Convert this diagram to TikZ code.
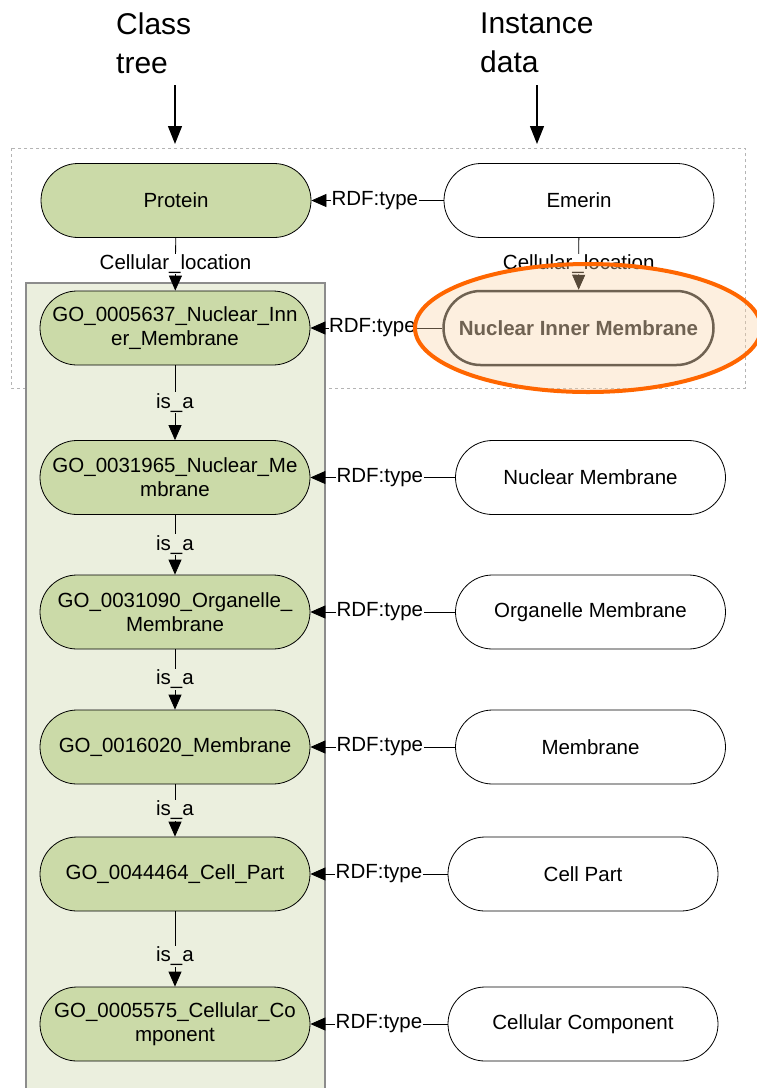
\documentclass[tikz,border=0pt]{standalone}
\usepackage{fontspec}
\setmainfont{Liberation Sans}
\usetikzlibrary{arrows.meta,shapes.geometric}
\definecolor{nodegreen}{RGB}{203,218,168}
\definecolor{panelgreen}{RGB}{235,239,222}
\definecolor{panelborder}{RGB}{140,140,140}
\definecolor{dashgray}{RGB}{180,180,180}
\definecolor{hiorange}{RGB}{255,102,0}
\definecolor{hifill}{RGB}{250,210,165}
\tikzset{
  nfont/.style={font=\fontsize{20.5}{24}\selectfont},
  clsnode/.style={draw=black, line width=0.8pt, fill=nodegreen, rounded corners=37pt,
    minimum width=270pt, minimum height=74pt, inner sep=0pt, align=center, nfont},
  instnode/.style={draw=black, line width=0.8pt, fill=white, rounded corners=37pt,
    minimum width=270pt, minimum height=74pt, inner sep=0pt, align=center, nfont},
  conn/.style={draw=black, line width=0.8pt, -{Triangle[length=15pt,width=13pt]}},
  bigarrow/.style={draw=black, line width=1.3pt, -{Triangle[length=18pt,width=14pt]}},
  lbl/.style={fill=white, inner sep=0.5pt, nfont},
  islbl/.style={fill=panelgreen, inner sep=1pt, nfont},
  header/.style={align=left, anchor=north west, inner sep=0pt,
    font=\fontsize{30}{39}\selectfont},
  highlight/.style={draw=hiorange, line width=4pt, fill=hifill, fill opacity=0.35,
    shape=ellipse, minimum width=346pt, minimum height=128pt, inner sep=0pt},
}
\begin{document}
\begin{tikzpicture}[x=1pt,y=-1pt]
\useasboundingbox (0,0) rectangle (757,1088);
\fill[white] (0,0) rectangle (757,1088);

% headers
\node[header] (hclass) at (116,13) {Class\\tree};
\node[header] (hinst) at (480,13) {Instance\\data};
\coordinate (ca) at (175,85);
\coordinate (cb) at (175,144);
\coordinate (ia) at (537,85);
\coordinate (ib) at (537,144);
\draw[bigarrow] (ca) -- (cb);
\draw[bigarrow] (ia) -- (ib);

% dashed frame
\draw[dashgray, dashed, line width=0.8pt] (11,148) rectangle (745,388);

% green panel
\draw[panelborder, fill=panelgreen, line width=1.5pt] (26,283) rectangle (325,1100);

% class nodes
\node[clsnode] (protein) at (176,200.5) {Protein};
\node[clsnode] (go1) at (175,328) {GO\_0005637\_Nuclear\_Inn\\er\_Membrane};
\node[clsnode] (go2) at (175,477.5) {GO\_0031965\_Nuclear\_Me\\mbrane};
\node[clsnode] (go3) at (175,612) {GO\_0031090\_Organelle\_\\Membrane};
\node[clsnode] (go4) at (175,747) {GO\_0016020\_Membrane};
\node[clsnode] (go5) at (175,874) {GO\_0044464\_Cell\_Part};
\node[clsnode] (go6) at (175,1024) {GO\_0005575\_Cellular\_Co\\mponent};

% instance nodes
\node[instnode] (emerin) at (579,200.5) {Emerin};
\node[instnode, draw=black!85, line width=2.5pt, text=black!85, font=\fontsize{20.5}{24}\selectfont\bfseries] (nim) at (578.5,328) {Nuclear Inner Membrane};
\node[instnode] (nm) at (590.5,477.5) {Nuclear Membrane};
\node[instnode] (om) at (590.5,612) {Organelle Membrane};
\node[instnode] (mem) at (590.5,747) {Membrane};
\node[instnode] (cp) at (583,874) {Cell Part};
\node[instnode] (cc) at (583,1024) {Cellular Component};

% RDF:type connectors
\draw[conn] (emerin) -- node[lbl, pos=0.52] {RDF:type} (protein);
\draw[conn] (nim) -- node[lbl, pos=0.53] {RDF:type} (go1);
\draw[conn] (nm) -- node[lbl, pos=0.52] {RDF:type} (go2);
\draw[conn] (om) -- node[lbl, pos=0.52] {RDF:type} (go3);
\draw[conn] (mem) -- node[lbl, pos=0.52] {RDF:type} (go4);
\draw[conn] (cp) -- node[lbl, pos=0.5] {RDF:type} (go5);
\draw[conn] (cc) -- node[lbl, pos=0.5] {RDF:type} (go6);

% vertical connectors
\draw[conn] (protein) -- node[lbl] {Cellular\_location} (go1);
\draw[conn] (emerin) -- node[lbl] {Cellular\_location} (nim);
\draw[conn] (go1) -- node[islbl] {is\_a} (go2);
\draw[conn] (go2) -- node[islbl] {is\_a} (go3);
\draw[conn] (go3) -- node[islbl] {is\_a} (go4);
\draw[conn] (go4) -- node[islbl] {is\_a} (go5);
\draw[conn] (go5) -- node[islbl, pos=0.6] {is\_a} (go6);

% highlight ellipse
\node[highlight] (hl) at (588,328) {};
\end{tikzpicture}
\end{document}
